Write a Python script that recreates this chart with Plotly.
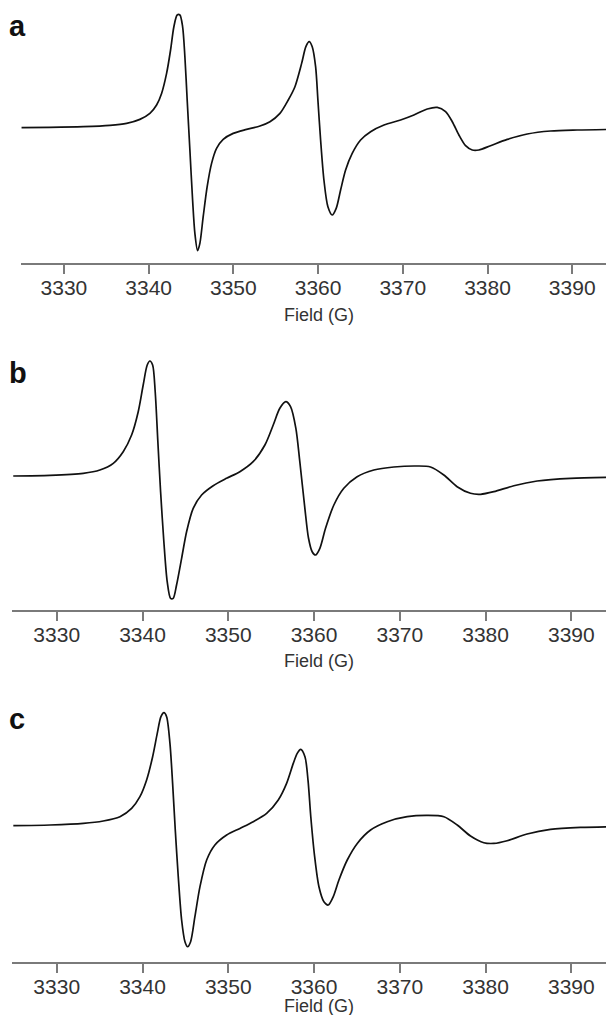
import plotly.graph_objects as go

# ---- Data (field in G, intensity in arbitrary units) ----
field_a = [3325.0, 3328.35, 3332.28, 3335.43, 3337.40, 3338.97, 3340.15, 3340.94, 3341.53, 3342.12,
           3342.59, 3342.98, 3343.37, 3343.69, 3344.01, 3344.28, 3344.55, 3344.87, 3345.19, 3345.46,
           3345.78, 3346.05, 3346.44, 3346.91, 3347.43, 3348.02, 3348.80, 3349.98, 3351.56, 3353.14,
           3354.32, 3355.50, 3356.48, 3357.27, 3358.06, 3358.56, 3358.95, 3359.31, 3359.71, 3359.98,
           3360.30, 3360.69, 3361.16, 3361.67, 3362.14, 3362.66, 3363.25, 3364.03, 3365.02, 3366.20,
           3367.78, 3369.74, 3371.31, 3372.89, 3374.07, 3375.05, 3375.84, 3376.62, 3377.41, 3378.20,
           3378.98, 3380.36, 3382.33, 3384.69, 3387.45, 3390.59, 3394.84]
intensity_a = [0, 0.3, 1.0, 2.3, 4.3, 8.3, 14.3, 22.7, 34.3, 54.3,
               77.7, 101, 112.7, 112.7, 101, 71, 27.7, -22.3, -72.3, -105.7,
               -123, -115.7, -89, -59, -35.7, -20.7, -11.7, -5.7, -1.7, 1.7,
               6, 14.3, 27.7, 41, 64.3, 81, 86, 81, 61, 27.7,
               -12.3, -52.3, -79, -87.3, -80.7, -62.3, -42.3, -25.7, -12.3, -4,
               2.7, 7.7, 12.7, 18.7, 20.3, 16, 6, -7.3, -18, -22.3,
               -22.3, -18, -11.7, -6.3, -3.3, -2.3, -1.7]

field_b = [3324.93, 3329.21, 3333.09, 3335.03, 3336.59, 3337.75, 3338.73, 3339.50, 3340.08, 3340.55,
           3340.86, 3341.18, 3341.48, 3341.79, 3342.11, 3342.49, 3342.88, 3343.27, 3343.58, 3343.97,
           3344.56, 3345.14, 3345.91, 3346.89, 3348.24, 3349.80, 3351.35, 3352.90, 3354.27, 3355.24,
           3356.01, 3356.71, 3357.26, 3357.88, 3358.34, 3358.93, 3359.35, 3359.78, 3360.17, 3360.68,
           3361.34, 3362.31, 3363.47, 3365.02, 3366.97, 3369.30, 3372.02, 3373.58, 3375.13, 3376.68,
           3378.24, 3379.41, 3380.96, 3383.29, 3386.01, 3389.90, 3394.86]
intensity_b = [0, 0.7, 2.7, 6, 12.7, 24.3, 41, 64.3, 91, 111,
               115, 111, 84.3, 34.3, -15.7, -65.7, -105.7, -122.3, -122.3, -109,
               -82.3, -55.7, -32.3, -19, -9.7, -2.3, 4.3, 14.3, 31, 51,
               67.7, 74.3, 69.3, 47.7, 14.3, -32.3, -62, -75.7, -79, -72.3,
               -52.3, -29, -12.3, -0.7, 6, 9, 10, 9, 1, -10.7,
               -17.3, -18.3, -15.7, -9.7, -5, -2.3, -1.3]

field_c = [3324.94, 3329.22, 3333.10, 3335.42, 3337.37, 3338.73, 3339.70, 3340.48, 3341.18, 3341.72,
           3342.15, 3342.50, 3342.81, 3343.20, 3343.51, 3343.82, 3344.17, 3344.56, 3344.95, 3345.26,
           3345.61, 3346.11, 3346.70, 3347.48, 3348.44, 3349.81, 3351.36, 3352.91, 3354.47, 3355.83,
           3356.80, 3357.58, 3358.04, 3358.44, 3358.94, 3359.30, 3359.62, 3360.07, 3360.57, 3361.15,
           3361.66, 3362.24, 3362.90, 3363.87, 3365.04, 3366.59, 3368.53, 3370.86, 3373.19, 3375.14,
           3376.69, 3378.24, 3379.79, 3380.96, 3382.51, 3384.84, 3387.56, 3391.06, 3394.86]
intensity_c = [0, 0.7, 2.3, 4.7, 9, 17.3, 29, 45.7, 69, 92.3,
               109, 113, 109, 82.3, 42.3, -4.3, -51, -94.3, -116, -121,
               -116, -91, -61, -34.3, -19.3, -9.3, -2.7, 4, 12.3, 25.7,
               42.3, 62.3, 72.3, 76.3, 69, 45, 9, -31, -61, -76,
               -79.3, -71, -54.3, -34.3, -17.7, -4.3, 4, 9, 10.3, 9,
               0.7, -10.3, -17, -17.7, -15, -8.3, -3.7, -1.7, -1]

tick_values = [3330, 3340, 3350, 3360, 3370, 3380, 3390]
tick_labels = ["3330", "3340", "3350", "3360", "3370", "3380", "3390"]
panel_labels = ["a", "b", "c"]
axis_title = "Field (G)"

# The page body has an 8px default margin; figure is sized so it fits the window.
OFF = 8
W, H = 614 - OFF, 1023 - 2 * OFF
LINE = "#111111"
AXIS = "#7a7a7a"
TXT = "#333333"

fig = go.Figure()
series = [(field_a, intensity_a), (field_b, intensity_b), (field_c, intensity_c)]
for i, (fx, fy) in enumerate(series):
    sfx = "" if i == 0 else str(i + 1)
    fig.add_trace(go.Scatter(x=fx, y=fy, mode="lines", xaxis="x" + sfx, yaxis="y" + sfx,
                             line=dict(color=LINE, width=1.7, shape="spline", smoothing=0.8),
                             showlegend=False, hoverinfo="skip"))

# panel geometry in window pixels
panels = [
    dict(x0=20.7, xr=[3324.9, 3394.93], axis_py=262.7, base_py=127.7, top_py=8),
    dict(x0=11.7, xr=[3324.75, 3394.97], axis_py=610.0, base_py=476.0, top_py=335),
    dict(x0=11.7, xr=[3324.75, 3394.97], axis_py=961.7, base_py=825.7, top_py=690),
]

def fx_(p):
    return (p - OFF) / W

def fy_(p):
    return 1 - (p - OFF) / H

layout = dict(width=W, height=H, margin=dict(l=0, r=0, t=0, b=0),
              paper_bgcolor="white", plot_bgcolor="white", showlegend=False)
for i, p in enumerate(panels):
    sfx = "" if i == 0 else str(i + 1)
    ydom = [fy_(p["axis_py"]), fy_(p["top_py"])]
    yr = [p["base_py"] - p["axis_py"], p["base_py"] - p["top_py"]]
    layout["xaxis" + sfx] = dict(domain=[fx_(p["x0"]), 1], range=p["xr"], anchor="y" + sfx,
                                 tickvals=tick_values, ticktext=tick_labels,
                                 ticks="outside", ticklen=9, tickwidth=1.5, tickcolor=AXIS,
                                 showline=True, linecolor=AXIS, linewidth=1.8,
                                 showgrid=False, zeroline=False, ticklabelstandoff=-4,
                                 tickfont=dict(family="Liberation Sans", size=21, color=TXT))
    layout["yaxis" + sfx] = dict(domain=ydom, range=yr, anchor="x" + sfx, visible=False,
                                 showgrid=False, zeroline=False)
fig.update_layout(**layout)

title_py = [315, 661, 1006]
annotations = []
for i, p in enumerate(panels):
    annotations.append(dict(text=axis_title, xref="paper", yref="paper",
                            x=fx_(318.5), y=fy_(title_py[i]), xanchor="center", yanchor="middle",
                            showarrow=False,
                            font=dict(family="Liberation Sans", size=18, color=TXT)))

# panel letters: "a" is anchored to the top edge so its box stays on the page
label_pos = [(8.5, "top"), (373, "middle"), (719, "middle")]
for i, (py, anc) in enumerate(label_pos):
    annotations.append(dict(text="<b>" + panel_labels[i] + "</b>", xref="paper", yref="paper",
                            x=fx_(8), y=fy_(py), xanchor="left", yanchor=anc,
                            showarrow=False, borderpad=0,
                            font=dict(family="Liberation Sans", size=29, color="#111111")))
fig.update_layout(annotations=annotations)

fig.write_html("out.html")
